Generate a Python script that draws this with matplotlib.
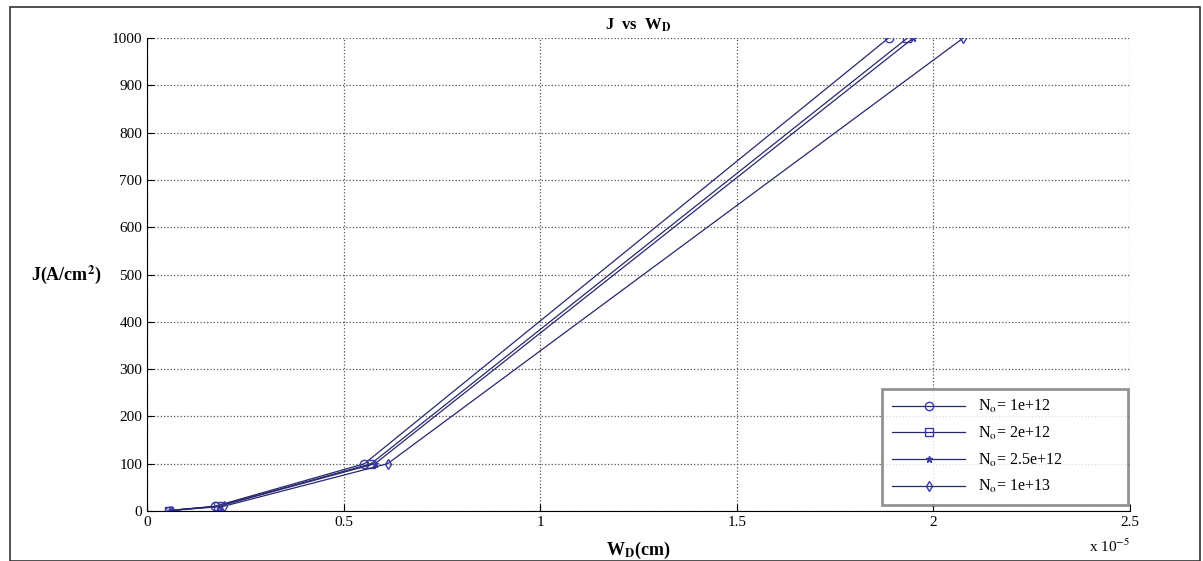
import numpy as np
import matplotlib.pyplot as plt
from matplotlib.patches import Rectangle

plt.rcParams['font.family'] = ['Liberation Serif', 'DejaVu Serif']
plt.rcParams['mathtext.fontset'] = 'stix'

# current density levels (A/cm^2)
J = [1, 10, 100, 1000]

# depletion width, in units of 1e-5 cm
wd_1e12 = [0.055, 0.173, 0.553, 1.886]
wd_2e12 = [0.057, 0.180, 0.570, 1.934]
wd_25e12 = [0.058, 0.183, 0.580, 1.949]
wd_1e13 = [0.062, 0.195, 0.612, 2.076]

labels = [r'N$_{\rm o}$= 1e+12', r'N$_{\rm o}$= 2e+12',
          r'N$_{\rm o}$= 2.5e+12', r'N$_{\rm o}$= 1e+13']
markers = ['o', 's', '*', 'd']
sizes = [6, 6, 5, 5]

lineColor = '#28286e'
markColor = '#3a3aaa'

fig = plt.figure(figsize=(12.03, 5.61), dpi=100)
ax = fig.add_axes([147 / 1203, 1 - 511 / 561, 983 / 1203, 473 / 561])

series = [wd_1e12, wd_2e12, wd_25e12, wd_1e13]
for wd, lab, m, s in zip(series, labels, markers, sizes):
    ax.plot(wd, J, color=lineColor, linewidth=0.9, marker=m, markersize=s,
            markerfacecolor='none' if m != '*' else markColor,
            markeredgecolor=markColor, markeredgewidth=1.0, label=lab)

ax.set_xlim(0, 2.5)
ax.set_ylim(0, 1000)
ax.set_xticks(np.arange(0, 2.51, 0.5))
ax.set_xticklabels(['0', '0.5', '1', '1.5', '2', '2.5'])
ax.set_yticks(np.arange(0, 1001, 100))
ax.tick_params(direction='in', length=5, labelsize=11, colors='black')
ax.spines['top'].set_visible(False)
ax.spines['right'].set_visible(False)
ax.grid(True, linestyle=':', color='#555555', linewidth=0.9)
ax.set_axisbelow(True)

ax.set_title(r'J  vs  W$_{\mathbf{D}}$', fontsize=12, fontweight='bold', pad=6)
ax.set_xlabel(r'W$_{\mathbf{D}}$(cm)', fontsize=13, fontweight='bold', labelpad=8)
ax.set_ylabel(r'J(A/cm$^{\mathbf{2}}$)', fontsize=13, fontweight='bold',
              rotation=0, labelpad=33, va='center')
ax.text(1.0, -0.075, r'x 10$^{-5}$', transform=ax.transAxes, fontsize=11,
        ha='right', va='center')

leg = ax.legend(loc='lower left', fontsize=11.5, handlelength=4.6, frameon=True,
                fancybox=False, borderpad=0.6, labelspacing=0.6,
                borderaxespad=0, mode='expand',
                bbox_to_anchor=(0.748, 0.013, 0.250, 0.243))
leg.get_frame().set_edgecolor('#777777')
leg.get_frame().set_linewidth(2)

fig.patches.append(Rectangle((10 / 1203, 0), 1190 / 1203, 1 - 7 / 561,
                             transform=fig.transFigure, fill=False,
                             edgecolor='#333333', linewidth=1.2))

fig.savefig('out.png', dpi=100)
